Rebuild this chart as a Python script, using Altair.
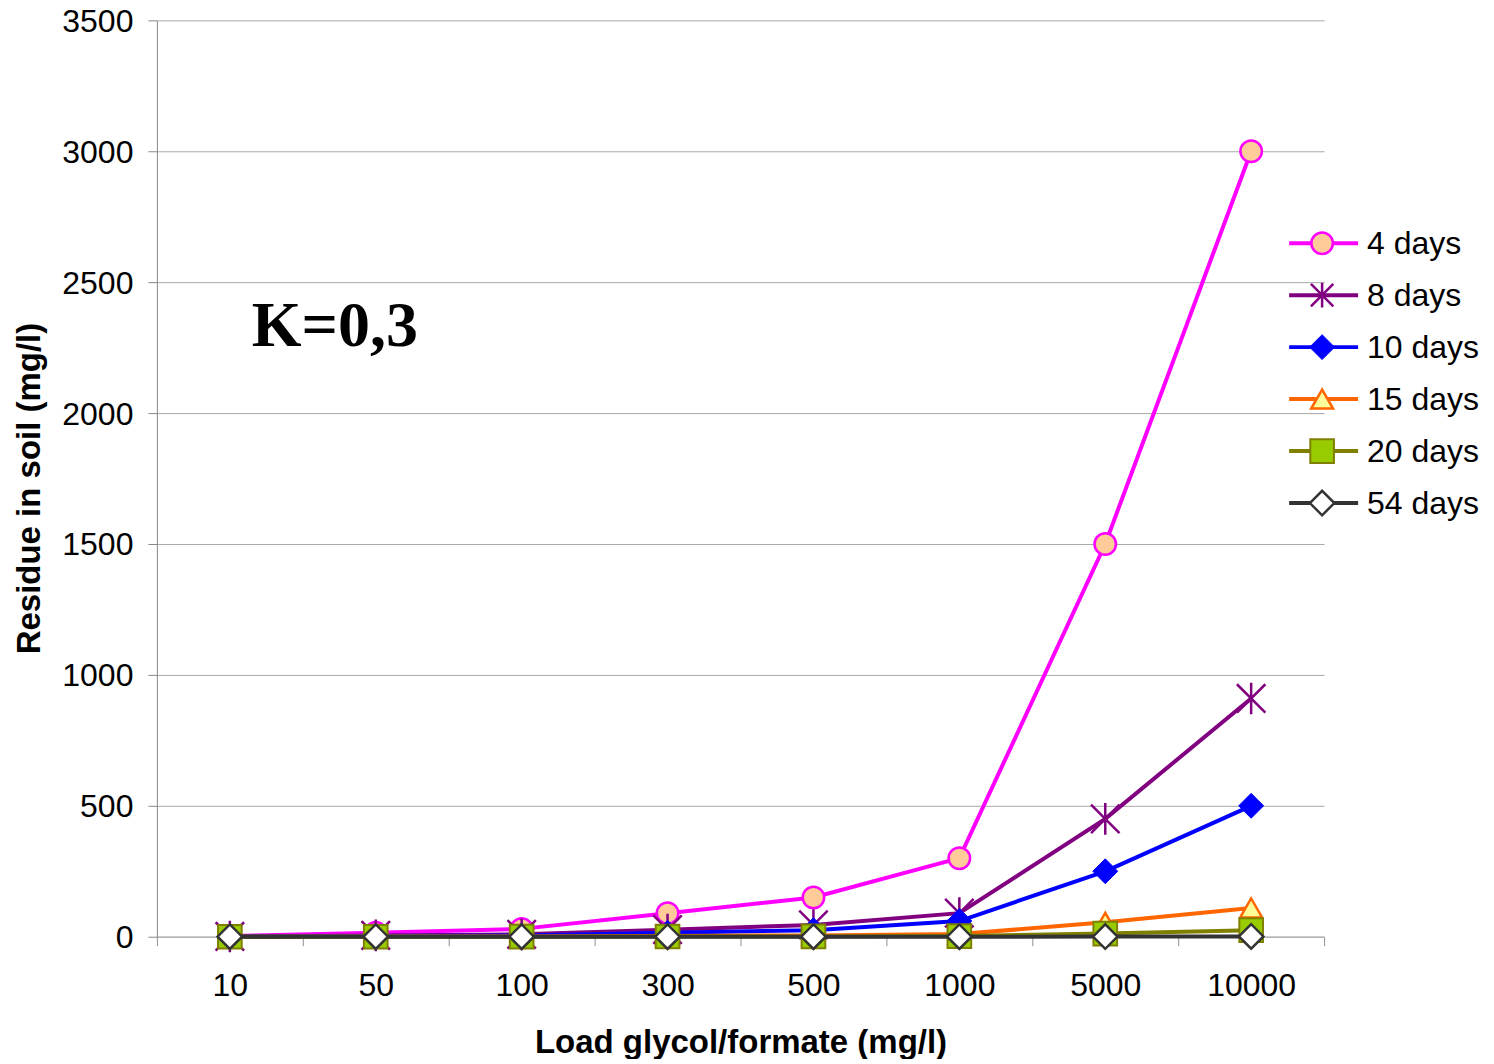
import altair as alt
import pandas as pd

# ---- data ----
loads = ["10", "50", "100", "300", "500", "1000", "5000", "10000"]
series_names = ["4 days", "8 days", "10 days", "15 days", "20 days", "54 days"]
days4 = [3, 15, 30, 90, 150, 300, 1500, 3000]
days8 = [1, 5, 9, 27, 45, 90, 450, 910]
days10 = [0.5, 2.5, 5, 15, 25, 60, 250, 500]
days15 = [0.1, 0.5, 1, 3, 5, 10, 55, 110]
days20 = [0, 0.1, 0.3, 0.8, 1.3, 2.5, 12, 25]
days54 = [0, 0, 0, 0, 0, 0.1, 0.5, 1]
all_values = [days4, days8, days10, days15, days20, days54]

# ---- styles ----
star_path = "M0,-1L0,1M-0.9,-0.9L0.9,0.9M-0.9,0.9L0.9,-0.9"
styles = {
    "4 days": dict(line="#FF00FF", shape="circle", fill="#FFCC99", stroke="#FF00FF", size=460, sw=2.5, filled=True),
    "8 days": dict(line="#800080", shape=star_path, fill=None, stroke="#800080", size=1000, sw=2.5, filled=False),
    "10 days": dict(line="#0000FF", shape="diamond", fill="#0000FF", stroke="#0000FF", size=620, sw=1, filled=True),
    "15 days": dict(line="#FF6600", shape="triangle-up", fill="#FFFF99", stroke="#FF6600", size=480, sw=2.5, filled=True),
    "20 days": dict(line="#808000", shape="square", fill="#99CC00", stroke="#808000", size=560, sw=2, filled=True),
    "54 days": dict(line="#333333", shape="diamond", fill="#FFFFFF", stroke="#333333", size=600, sw=2.5, filled=True),
}

rows = []
for s, vals in zip(series_names, all_values):
    for l, v in zip(loads, vals):
        rows.append({"series": s, "load": l, "value": v})
df = pd.DataFrame(rows)

FONT = "Liberation Sans"
FS = 32
TFS = 33
W, H = 1168, 917

x_enc = alt.X(
    "load:N",
    sort=loads,
    bandPosition=0.5,
    scale=alt.Scale(type="band", domain=loads, paddingInner=0, paddingOuter=0),
    axis=alt.Axis(
        title="Load glycol/formate (mg/l)",
        tickBand="extent",
        labelAngle=0,
        domainColor="#b4b4b4",
        domainWidth=1.5,
        tickColor="#909090",
        tickSize=9,
        labelFontSize=FS,
        labelPadding=25,
        labelColor="black",
        titleFontSize=TFS,
        titleFontWeight="bold",
        titleColor="black",
        titlePadding=25,
        grid=False,
    ),
)
y_enc = alt.Y(
    "value:Q",
    scale=alt.Scale(domain=[0, 3500], nice=False),
    axis=alt.Axis(
        title="Residue in soil (mg/l)",
        values=list(range(0, 3501, 500)),
        format="d",
        domainColor="#888888",
        tickColor="#888888",
        tickSize=9,
        gridColor="#a8a8a8",
        gridWidth=1,
        labelFontSize=FS,
        labelPadding=15,
        labelOffset=1,
        labelColor="black",
        titleFontSize=TFS,
        titleFontWeight="bold",
        titleColor="black",
        titlePadding=15,
        titleY=468,
    ),
)

layers = []
for s in series_names:
    st = styles[s]
    sub = df[df["series"] == s]
    base = alt.Chart(sub)
    layers.append(
        base.mark_line(color=st["line"], strokeWidth=4).encode(x=x_enc, y=y_enc)
    )
    pt_kwargs = dict(shape=st["shape"], size=st["size"], stroke=st["stroke"],
                     strokeWidth=st["sw"], opacity=1, filled=st["filled"])
    if st["fill"] is not None:
        pt_kwargs["fill"] = st["fill"]
    layers.append(base.mark_point(**pt_kwargs).encode(x=x_enc, y=y_enc))

# annotation
ann = alt.Chart(pd.DataFrame({"t": ["K=0,3"]})).mark_text(
    font="Liberation Serif", fontSize=64, fontWeight="bold", align="left",
    baseline="alphabetic", color="black"
).encode(x=alt.value(95), y=alt.value(326), text="t:N")
layers.append(ann)

# manual legend (line + marker + label)
leg_top = 223
leg_step = 52
for i, s in enumerate(series_names):
    st = styles[s]
    yy = leg_top + i * leg_step
    d = alt.Chart(pd.DataFrame({"series": [s]}))
    layers.append(d.mark_rule(color=st["line"], strokeWidth=4).encode(
        x=alt.value(1133), x2=alt.value(1202), y=alt.value(yy)))
    pt_kwargs = dict(shape=st["shape"], size=st["size"], stroke=st["stroke"],
                     strokeWidth=st["sw"], opacity=1, filled=st["filled"])
    if st["fill"] is not None:
        pt_kwargs["fill"] = st["fill"]
    if s == "8 days":
        pt_kwargs["size"] = 620
    layers.append(d.mark_point(**pt_kwargs).encode(x=alt.value(1166), y=alt.value(yy)))
    layers.append(d.mark_text(font=FONT, fontSize=FS, align="left", baseline="middle",
                              color="black").encode(
        x=alt.value(1211), y=alt.value(yy + 1), text="series:N"))

chart = alt.layer(*layers).properties(
    width=W,
    height=H,
    autosize=alt.AutoSizeParams(type="none"),
    padding={"left": 149, "top": 12, "right": 162, "bottom": 122},
).configure_view(stroke=None).configure_axis(labelFont=FONT, titleFont=FONT)

chart.save("out.html", embed_options={"renderer": "svg", "actions": False})
